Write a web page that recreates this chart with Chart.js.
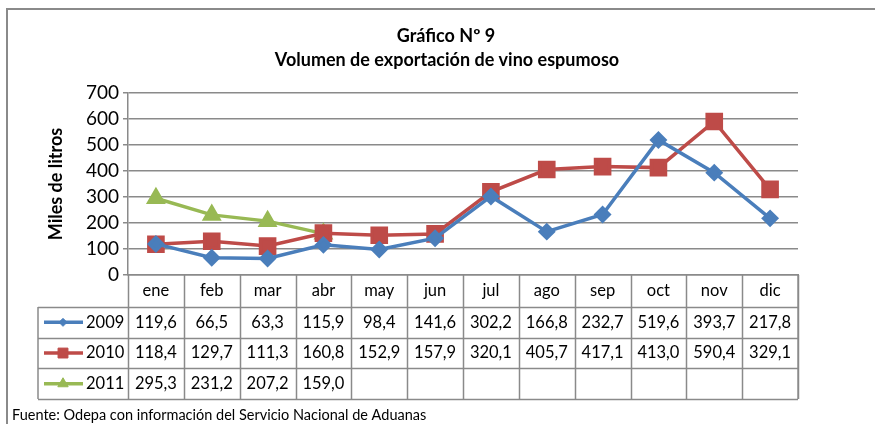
<!DOCTYPE html>
<html>
<head>
<meta charset="utf-8">
<script src="https://cdn.jsdelivr.net/npm/chart.js@4/dist/chart.umd.min.js"></script>
<style>
html,body{margin:0;padding:0;background:#fff;}
#wrap{position:relative;width:875px;height:424px;}
</style>
</head>
<body>
<div id="wrap"><canvas id="c" width="875" height="424"></canvas></div>
<script>
const months = ['ene','feb','mar','abr','may','jun','jul','ago','sep','oct','nov','dic'];
const seriesNames = ['2009','2010','2011'];
const v2009 = [119.6,66.5,63.3,115.9,98.4,141.6,302.2,166.8,232.7,519.6,393.7,217.8];
const v2010 = [118.4,129.7,111.3,160.8,152.9,157.9,320.1,405.7,417.1,413.0,590.4,329.1];
const v2011 = [295.3,231.2,207.2,159.0,null,null,null,null,null,null,null,null];
const yTicks = [0,100,200,300,400,500,600,700];
const titleLines = ['Gráfico Nº 9','Volumen de exportación de vino espumoso'];
const yTitle = 'Miles de litros';
const footer = 'Fuente: Odepa con información del Servicio Nacional de Aduanas';

const colors = ['#4a7ebb','#be4b48','#98b954'];
const markers = ['rectRot','rect','triangle'];
const radii = [6.5,10,8];
const legendRadii = [4,7,6];
const allValues = [v2009,v2010,v2011];
const FONT = 'Lato, "Open Sans", sans-serif';
const GRID = '#8a8a8a';

const fmt = v => v == null ? '' : v.toFixed(1).replace('.', ',');

const tablePlugin = {
  id: 'tablePlugin',
  afterDraw(chart) {
    const ctx = chart.ctx;
    const xs = chart.scales.x;
    const area = chart.chartArea;
    const n = months.length;
    const step = (area.right - area.left) / n;
    const top = area.bottom;
    const headerH = 32;
    const rowH = 30.7;
    const legendLeft = 38;
    const tableBottom = top + headerH + rowH * 3;
    ctx.save();
    // outer frame
    ctx.strokeStyle = '#8a8a8a';
    ctx.lineWidth = 2;
    ctx.beginPath();
    ctx.moveTo(7, 430); ctx.lineTo(7, 9); ctx.lineTo(880, 9);
    ctx.stroke();

    // table lines
    ctx.strokeStyle = GRID;
    ctx.lineWidth = 1.5;
    ctx.beginPath();
    for (let i = 0; i <= n; i++) {
      const x = Math.round(area.left + i * step) + 0.5;
      ctx.moveTo(x, top); ctx.lineTo(x, tableBottom);
    }
    ctx.moveTo(legendLeft, top + headerH); ctx.lineTo(legendLeft, tableBottom);
    for (let r = 0; r <= 3; r++) {
      const y = Math.round(top + headerH + r * rowH) + 0.5;
      ctx.moveTo(legendLeft, y); ctx.lineTo(area.right, y);
    }
    ctx.moveTo(area.right, top); ctx.lineTo(area.right, tableBottom);
    ctx.stroke();

    // header text
    ctx.fillStyle = '#000';
    ctx.font = '16.5px ' + FONT;
    ctx.textAlign = 'center';
    ctx.textBaseline = 'middle';
    months.forEach((m, i) => {
      ctx.fillText(m, xs.getPixelForValue(i), top + headerH / 2);
    });
    // rows
    allValues.forEach((vals, r) => {
      const yc = top + headerH + rowH * r + rowH / 2;
      ctx.fillStyle = '#000';
      ctx.textAlign = 'center';
      vals.forEach((v, i) => {
        ctx.fillText(fmt(v), xs.getPixelForValue(i), yc);
      });
      // legend key
      ctx.strokeStyle = colors[r];
      ctx.lineWidth = 3.5;
      ctx.beginPath();
      ctx.moveTo(44, yc); ctx.lineTo(83, yc);
      ctx.stroke();
      ctx.fillStyle = colors[r];
      ctx.lineWidth = 1;
      Chart.helpers.drawPoint(ctx, {pointStyle: markers[r], radius: legendRadii[r], rotation: 0, borderWidth: 1}, 63, yc);
      ctx.fillStyle = '#000';
      ctx.textAlign = 'left';
      ctx.fillText(seriesNames[r], 86, yc);
    });

    // titles
    ctx.fillStyle = '#000';
    ctx.font = 'bold 18px ' + FONT;
    ctx.textAlign = 'center';
    ctx.fillText(titleLines[0], 446, 36);
    ctx.fillText(titleLines[1], 447, 60);
    // y title
    ctx.save();
    ctx.translate(56, (area.top + area.bottom) / 2);
    ctx.rotate(-Math.PI / 2);
    ctx.font = 'bold 18px ' + FONT;
    ctx.fillText(yTitle, 0, 0);
    ctx.restore();
    // footer
    ctx.font = '14.5px ' + FONT;
    ctx.textAlign = 'left';
    ctx.fillText(footer, 12, 415);
    ctx.restore();
  }
};

new Chart(document.getElementById('c'), {
  type: 'line',
  data: {
    labels: months,
    datasets: allValues.map((vals, i) => ({
      label: seriesNames[i],
      data: vals,
      borderColor: colors[i],
      backgroundColor: colors[i],
      pointBackgroundColor: colors[i],
      pointBorderColor: colors[i],
      pointStyle: markers[i],
      pointRadius: radii[i],
      pointHoverRadius: radii[i],
      borderWidth: 3.5,
      tension: 0,
      spanGaps: false
    }))
  },
  options: {
    responsive: false,
    animation: false,
    devicePixelRatio: 1,
    layout: { padding: { left: 0, right: 77, top: 93, bottom: 0 } },
    plugins: { legend: { display: false }, tooltip: { enabled: false }, title: { display: false } },
    scales: {
      x: {
        offset: true,
        grid: { display: false, drawTicks: false },
        border: { display: true, color: GRID, width: 1.5 },
        ticks: { display: false },
        afterFit: s => { s.height = 149; }
      },
      y: {
        min: 0, max: 700,
        afterBuildTicks: s => { s.ticks = yTicks.map(v => ({ value: v })); },
        grid: { color: GRID, lineWidth: 1.5, tickLength: 5 },
        border: { display: true, color: GRID, width: 1.5 },
        ticks: { color: '#000', font: { family: FONT, size: 19 }, padding: 4 },
        afterFit: s => { s.width = 128; }
      }
    }
  },
  plugins: [tablePlugin]
});
</script>
</body>
</html>
